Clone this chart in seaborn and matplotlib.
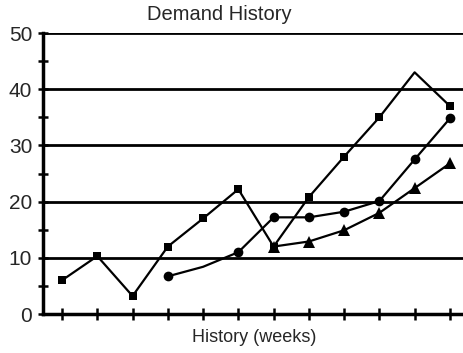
import matplotlib
matplotlib.use("Agg")
import matplotlib.pyplot as plt
from matplotlib.ticker import MultipleLocator
import seaborn as sns
import pandas as pd

# Weekly demand history, three series
weeks = list(range(1, 13))
demand_a = [6, 10.3, 3.2, 12, 17, 22.2, 12, 20.8, 28, 35, 43, 37]
weeks_b = list(range(4, 13))
demand_b = [6.7, 8.4, 11, 17.2, 17.2, 18.2, 20.1, 27.5, 34.8]
weeks_c = list(range(7, 13))
demand_c = [12, 12.9, 14.9, 18, 22.4, 26.8]

y_ticks = [0, 10, 20, 30, 40, 50]

sns.set_style("white")
plt.rcParams["font.family"] = ["Liberation Sans", "DejaVu Sans"]

fig = plt.figure(figsize=(4.64, 3.53), dpi=100)
ax = fig.add_axes([43 / 464, 1 - 314 / 353, 1 - 43 / 464, (314 - 33) / 353])

df_a = pd.DataFrame({"week": weeks, "demand": demand_a})
df_b = pd.DataFrame({"week": weeks_b, "demand": demand_b})
df_c = pd.DataFrame({"week": weeks_c, "demand": demand_c})

line_kw = dict(color="black", linewidth=1.6, markeredgewidth=0)
sns.lineplot(data=df_c, x="week", y="demand", ax=ax, marker="^",
             markersize=8, zorder=3, **line_kw)
sns.lineplot(data=df_b, x="week", y="demand", ax=ax, marker="o",
             markersize=7, markevery=[0, 2, 3, 4, 5, 6, 7, 8], zorder=4, **line_kw)
sns.lineplot(data=df_a, x="week", y="demand", ax=ax, marker="s",
             markersize=6, markevery=[0, 1, 2, 3, 4, 5, 6, 7, 8, 9, 11],
             zorder=5, **line_kw)

ax.set_xlim(0.46, 12.4)
ax.set_ylim(0, 50)
ax.set_xticks(weeks)
ax.set_xticklabels([])
ax.set_yticks(y_ticks)
ax.set_yticklabels([str(v) for v in y_ticks])
ax.yaxis.set_minor_locator(MultipleLocator(5))

ax.yaxis.grid(True, color="black", linewidth=2)
ax.set_axisbelow(True)

for side in ("top", "right"):
    ax.spines[side].set_visible(False)
for side in ("left", "bottom"):
    ax.spines[side].set_color("black")
    ax.spines[side].set_linewidth(2.5)

ax.tick_params(axis="x", which="major", direction="inout", length=8.5,
               width=1.8, color="black", bottom=True)
ax.tick_params(axis="y", which="both", direction="inout", length=7.5,
               width=1.8, color="black", left=True, labelsize=15, pad=4)

ax.set_xlabel("")
ax.set_ylabel("")

fig.text(219 / 464, 1 - 15 / 353, "Demand History", ha="center", va="center",
         fontsize=14.5)
fig.text(254 / 464, 1 - 338 / 353, "History (weeks)", ha="center", va="center",
         fontsize=13)

fig.savefig("out.png", dpi=100)
